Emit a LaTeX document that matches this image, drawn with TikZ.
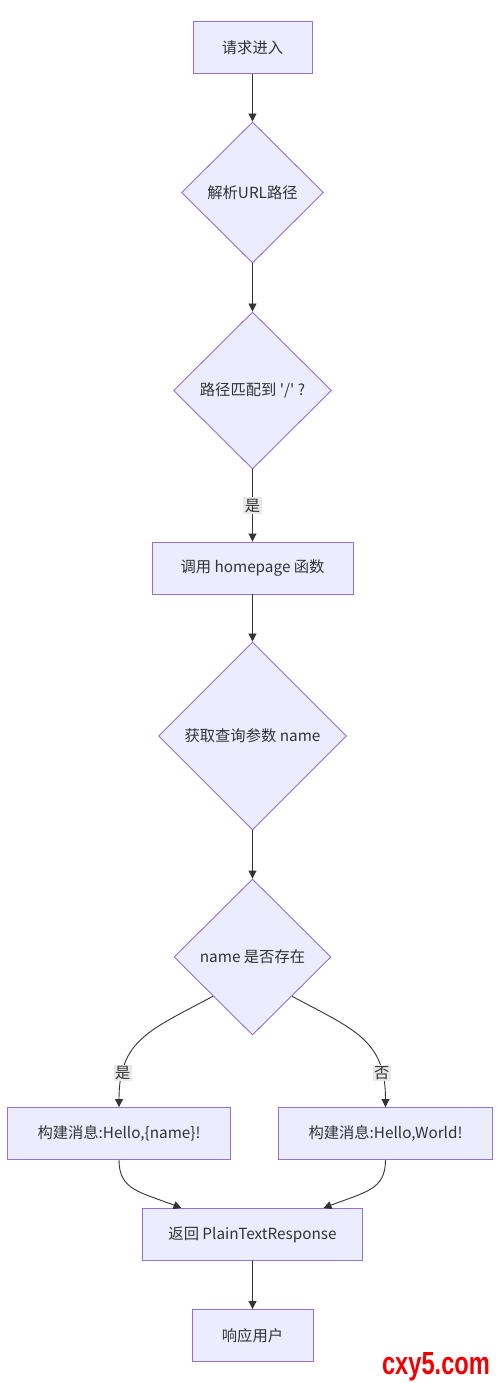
\documentclass[tikz,border=0pt]{standalone}
\usepackage{fontspec}
\setmainfont{Noto Sans CJK SC}[Ligatures=TeXOff]
\newfontfamily\wmfont{Liberation Sans}
\usetikzlibrary{shapes.geometric,arrows.meta}
\definecolor{nodefill}{HTML}{ECECFF}
\definecolor{nodeline}{HTML}{9370DB}
\definecolor{edgecol}{HTML}{333333}
\definecolor{lblbg}{HTML}{E8E8E8}
\definecolor{wmred}{HTML}{F00000}
\tikzset{
  procbox/.style={draw=nodeline, fill=nodefill, line width=0.9pt, text=edgecol, font=\fontsize{15.3}{17}\selectfont, inner sep=0pt, minimum height=52pt},
  decbox/.style={draw=nodeline, fill=nodefill, line width=0.9pt, diamond, text=edgecol, font=\fontsize{15.3}{17}\selectfont, inner sep=0pt},
  arr/.style={draw=edgecol, line width=0.9pt, -{Triangle[length=8pt,width=8pt]}},
  lbl/.style={fill=lblbg, text=edgecol, font=\fontsize{15.3}{17}\selectfont, inner sep=1.5pt}
}
\begin{document}
\begin{tikzpicture}[x=1pt,y=-1pt]
\useasboundingbox (0,0) rectangle (500,1383);
\node[procbox, minimum width=119pt] (b1) at (252.5,47.5) {请求进入};
\node[decbox, minimum width=142pt, minimum height=141pt] (d1) at (252.5,192.5) {解析URL路径};
\node[decbox, minimum width=158pt, minimum height=157pt] (d2) at (252.5,390.5) {路径匹配到 '/' ?};
\node[procbox, minimum width=201pt] (b2) at (252.5,568) {调用 homepage 函数};
\node[decbox, minimum width=188pt, minimum height=188pt] (d3) at (252.5,736) {获取查询参数 name};
\node[decbox, minimum width=157pt, minimum height=156pt] (d4) at (252.5,957) {name 是否存在};
\node[procbox, minimum width=223pt] (bl) at (119,1133.5) {构建消息:Hello,\{name\}!};
\node[procbox, minimum width=214pt] (br) at (385.5,1133.5) {构建消息:Hello,World!};
\node[procbox, minimum width=220pt] (ret) at (252.5,1234.5) {返回 PlainTextResponse};
\node[procbox, minimum width=121pt] (usr) at (252.5,1335.5) {响应用户};
\node[text=wmred, font=\wmfont\bfseries\fontsize{32}{34}\selectfont, inner sep=0pt, xscale=0.74, anchor=base] (wm) at (436,1374) {cxy5.com};

\draw[arr] (b1) -- (d1);
\draw[arr] (d1) -- (d2);
\draw[arr] (d2) -- node[lbl] (l1) {是} (b2);
\draw[arr] (b2) -- (d3);
\draw[arr] (d3) -- (d4);
\draw[arr] (d4.south west) .. controls (150,1030) and (119,1040) .. node[lbl, pos=0.8] (l2) {是} (bl.north);
\draw[arr] (d4.south east) .. controls (355,1030) and (385.5,1040) .. node[lbl, pos=0.8] (l3) {否} (br.north);
\draw[arr] (bl.south) .. controls (119,1190) and (140,1192) .. ([xshift=-71pt]ret.north);
\draw[arr] (br.south) .. controls (385.5,1190) and (365,1192) .. ([xshift=71pt]ret.north);
\draw[arr] (ret) -- (usr);
\end{tikzpicture}
\end{document}
